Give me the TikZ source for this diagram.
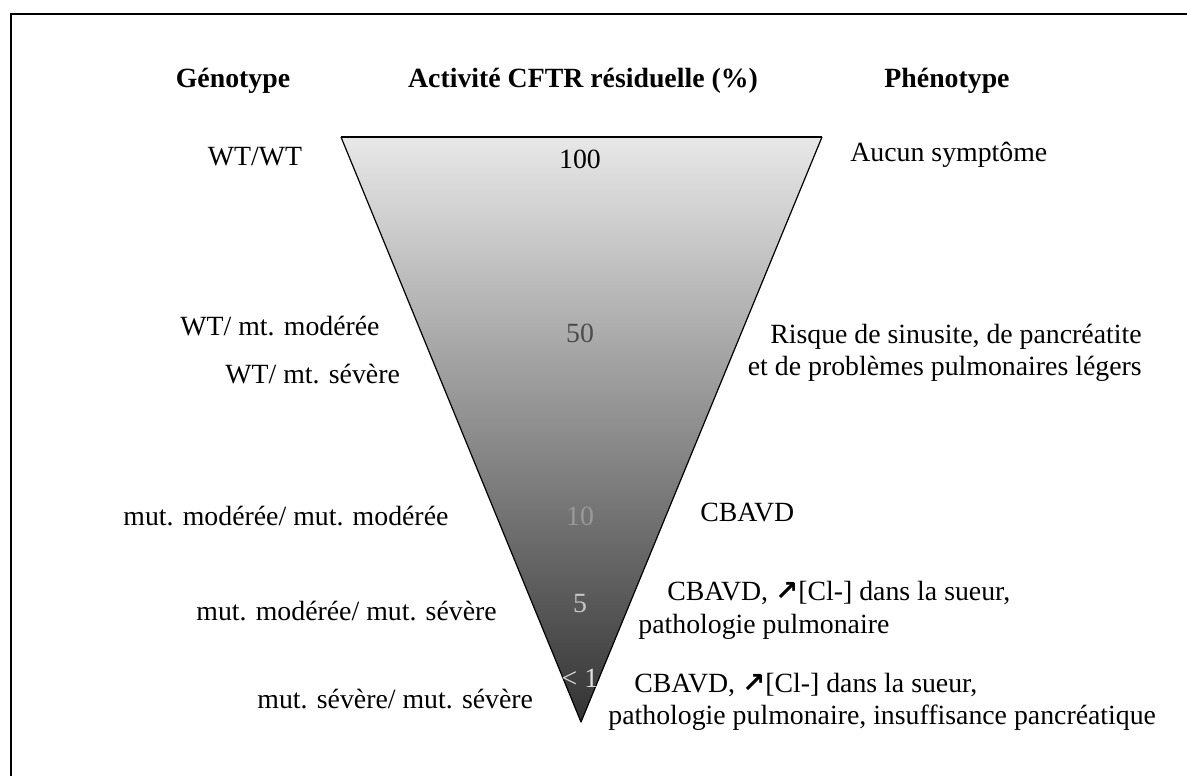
\documentclass[tikz,border=0pt]{standalone}
\usepackage{fontspec}
\setmainfont{Liberation Serif}
\newfontfamily\arrowfont{DejaVu Sans Bold}
\newcommand{\hausse}{{\arrowfont ↗}}

\tikzset{
    lbl/.style={font=\fontsize{13.9}{17}\selectfont, inner sep=0pt},
    head/.style={lbl, font=\fontsize{13.9}{17}\selectfont\bfseries, anchor=base}
}

\begin{document}
\begin{tikzpicture}[x=0.5pt,y=-0.5pt]
    \useasboundingbox (0,0) rectangle (1187,776);
    \draw[line width=1pt] (11,776) -- (11,14) -- (1187,14);

    \shade[top color=black!9, bottom color=black!80] (341,137) -- (822,137) -- (581,722) -- cycle;
    \draw[line width=0.6pt, line join=round] (822,137) -- (581,722) -- (341,137);
    \draw[line width=1.1pt] (341,137) -- (822,137);

    \node[head] (genotype) at (233,87) {Génotype};
    \node[head] (activite) at (583,87) {Activité CFTR résiduelle (\%)};
    \node[head] (phenotype) at (947,87) {Phénotype};

    \foreach \val/\ypos/\col/\nm in {100/168/black/p100, 50/342/black!70/p50, 10/525/black!40/p10, 5/612/black!22/p5, {< 1}/687/black!12/p1}{
        \node[lbl, anchor=base, text=\col] (\nm) at (580,\ypos) {\val};
    }

    \node[lbl, anchor=base] (wtwt) at (255,165) {WT/WT};
    \node[lbl, anchor=base west] (wtmod) at (180,335) {WT/ mt. modérée};
    \node[lbl, anchor=base west] (wtsev) at (225,383) {WT/ mt. sévère};
    \node[lbl, anchor=base west] (modmod) at (123,525) {mut. modérée/ mut. modérée};
    \node[lbl, anchor=base west] (modsev) at (196,620) {mut. modérée/ mut. sévère};
    \node[lbl, anchor=base west] (sevsev) at (257,708) {mut. sévère/ mut. sévère};

    \node[lbl, anchor=base west] (aucun) at (850,161) {Aucun symptôme};
    \node[lbl, anchor=base east] (risqueA) at (1142,343) {Risque de sinusite, de pancréatite};
    \node[lbl, anchor=base east] (risqueB) at (1142,375) {et de problèmes pulmonaires légers};
    \node[lbl, anchor=base west] (cbavd) at (700,521) {CBAVD};
    \node[lbl, anchor=base west] (sueurA) at (667,600) {CBAVD, \hausse[Cl-] dans la sueur,};
    \node[lbl, anchor=base west] (sueurB) at (638,633) {pathologie pulmonaire};
    \node[lbl, anchor=base west] (pancA) at (634,692) {CBAVD, \hausse[Cl-] dans la sueur,};
    \node[lbl, anchor=base west] (pancB) at (608,724) {pathologie pulmonaire, insuffisance pancréatique};
\end{tikzpicture}
\end{document}
